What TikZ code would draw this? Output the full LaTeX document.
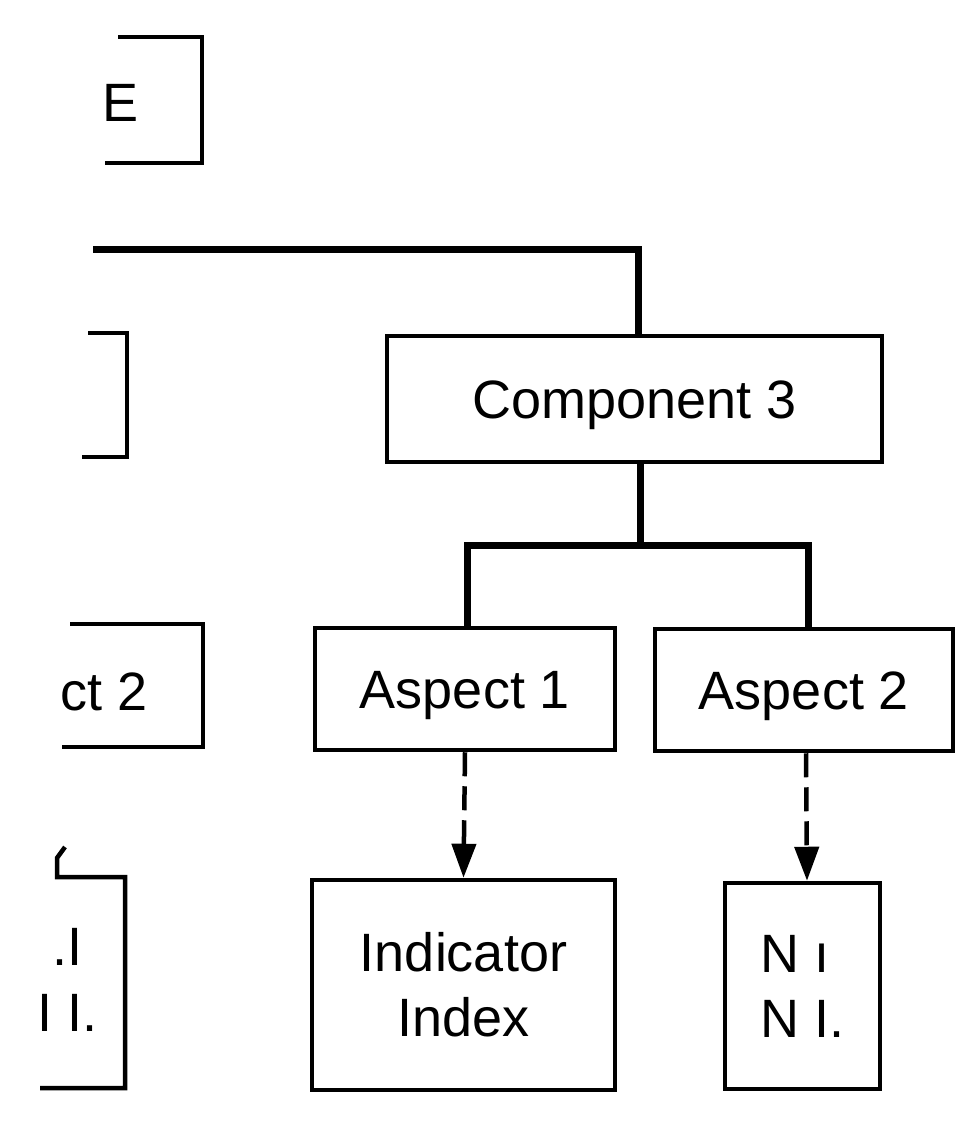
\documentclass[tikz,border=0pt]{standalone}
\usepackage{fontspec}
\setmainfont{Liberation Sans}
\usetikzlibrary{arrows.meta}
\begin{document}
\begin{tikzpicture}[x=1pt,y=-1pt,
  every node/.style={font=\fontsize{54}{65}\selectfont, inner sep=0pt},
  boxnode/.style={draw, line width=4.5pt, rectangle, text height=39pt, text depth=0pt},
  edgeline/.style={line width=4.5pt, line cap=butt, line join=miter},
  link/.style={line width=7pt, line join=miter},
  arr/.style={line width=4.5pt, dash pattern=on 24pt off 10pt, -{Triangle[length=34pt,width=24pt]}},
  lbl/.style={anchor=base west}
]
\useasboundingbox (0,0) rectangle (973,1134);

% complete nodes
\node[boxnode, minimum width=495pt, minimum height=126pt] (comp) at (634.5,399) {Component 3};
\node[boxnode, minimum width=300pt, minimum height=122pt] (asp1) at (465,689) {Aspect 1};
\node[boxnode, minimum width=298pt, minimum height=122pt] (asp2) at (804,690) {Aspect 2};
\node[draw, line width=4.5pt, minimum width=303pt, minimum height=210pt, align=center] (ind) at (463.5,985) {Indicator\\Index};
\node[draw, line width=4.5pt, minimum width=155pt, minimum height=206pt, align=left] (nr) at (802.5,986) {N ı\\N I.};

% partial boxes cut at the left edge
\draw[edgeline] (118,37) -- (202,37) -- (202,163) -- (105,163);
\node[lbl] (etext) at (102,122) {E};
\draw[edgeline] (88,333) -- (127,333) -- (127,457) -- (82,457);
\draw[edgeline] (70,624) -- (203,624) -- (203,747) -- (62,747);
\node[anchor=base east] (ct2) at (148,710) {ct 2};
\draw[edgeline] (65,847) -- (57,858) -- (57,877) -- (125,877) -- (125,1088) -- (40,1088);
\node[lbl] (bl1) at (52,965) {.I};
\node[lbl] (bl2) at (37,1031) {I I.};

% connectors
\coordinate (tl) at (93,249);
\coordinate (j) at (640,545);
\draw[link] (tl) -| ([xshift=3.5pt]comp.north);
\draw[link] ([xshift=5.5pt]comp.south) -- (j);
\draw[link] ([xshift=2pt]asp1.north) |- (j) -| ([xshift=4pt]asp2.north);

\draw[arr] (asp1.south) -- (ind.north);
\draw[arr] ([xshift=2pt]asp2.south) -- ([xshift=4.5pt]nr.north);
\end{tikzpicture}
\end{document}
